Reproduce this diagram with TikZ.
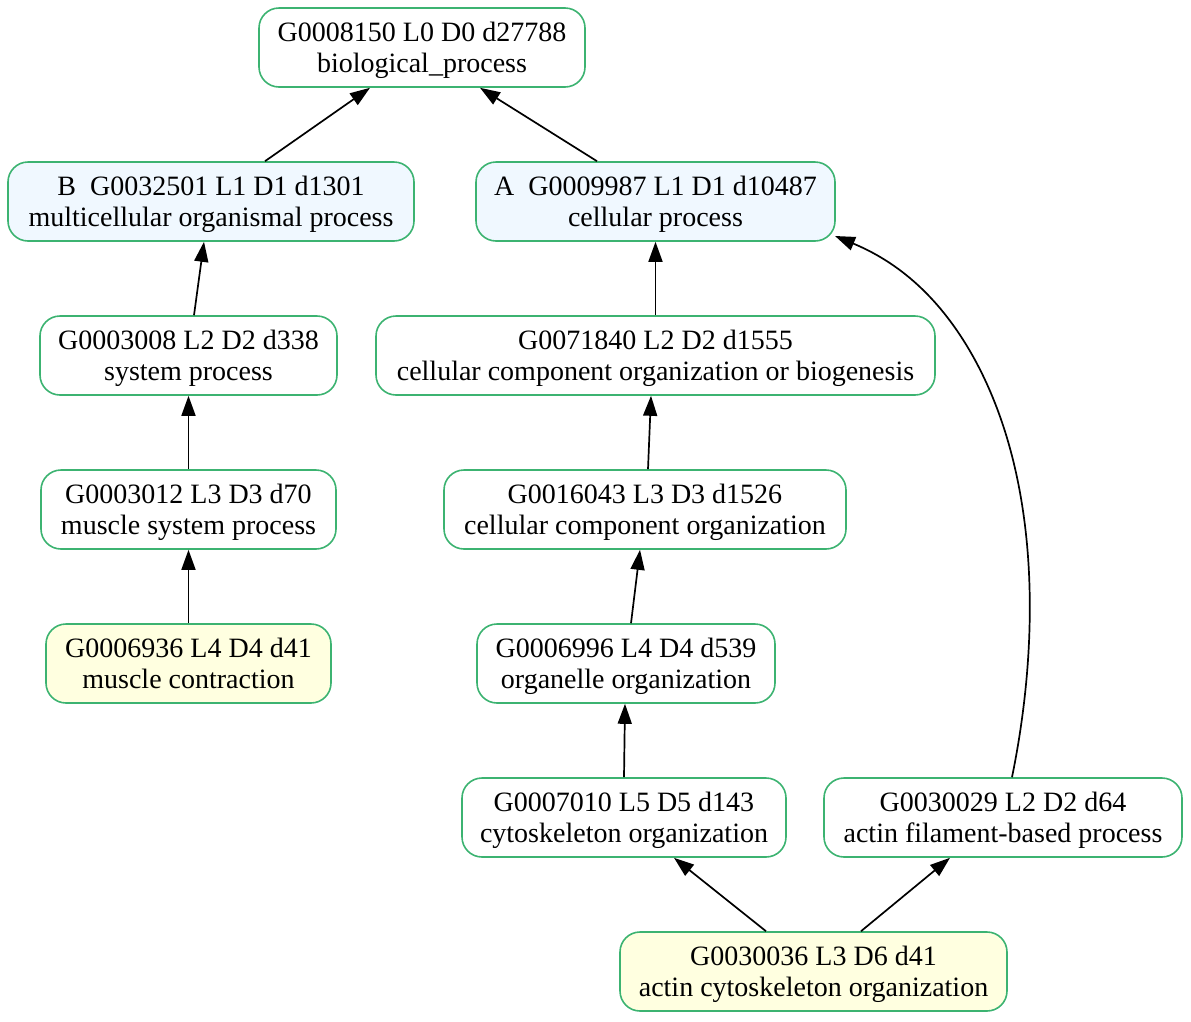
\documentclass[tikz,border=0pt]{standalone}
\usepackage{fontspec}
\setmainfont{Liberation Serif}
\usetikzlibrary{arrows.meta}
\definecolor{goedge}{RGB}{60,179,113}
\definecolor{gofillA}{RGB}{240,248,255}
\definecolor{gofillY}{RGB}{255,255,224}
% two-line term label, set slightly below the box centre
\newcommand\goterm[2]{\raisebox{-3pt}[\height][\depth]{\begin{tabular}{@{}c@{}}#1\\#2\end{tabular}}}
\tikzset{
  term/.style={draw=goedge, line width=1.6pt, rounded corners=20pt, fill=white,
    align=center, inner sep=0pt, minimum height=79pt,
    font=\fontsize{28}{31}\selectfont},
  termA/.style={term, fill=gofillA},
  termY/.style={term, fill=gofillY},
  isa/.style={line width=1.7pt, -{Triangle[length=20pt,width=14pt]}},
}
\begin{document}
\begin{tikzpicture}[x=1pt,y=-1pt]
\useasboundingbox (0,0) rectangle (1191,1021);
\node[term,  minimum width=326pt] (root) at (422,47.5)   {\goterm{G0008150 L0 D0 d27788}{biological\_process}};
\node[termA, minimum width=406pt] (B)    at (211,201.5)  {\goterm{B\ \ G0032501 L1 D1 d1301}{multicellular organismal process}};
\node[termA, minimum width=359pt] (A)    at (655.5,201.5){\goterm{A\ \ G0009987 L1 D1 d10487}{cellular process}};
\node[term,  minimum width=297pt] (n3008)  at (188.5,355.5){\goterm{G0003008 L2 D2 d338}{system process}};
\node[term,  minimum width=559pt] (n71840) at (655.5,355.5){\goterm{G0071840 L2 D2 d1555}{cellular component organization or biogenesis}};
\node[term,  minimum width=295pt] (n3012)  at (188.5,509.5){\goterm{G0003012 L3 D3 d70}{muscle system process}};
\node[term,  minimum width=402pt] (n16043) at (645,509.5)  {\goterm{G0016043 L3 D3 d1526}{cellular component organization}};
\node[termY, minimum width=285pt] (n6936)  at (188.5,663.5){\goterm{G0006936 L4 D4 d41}{muscle contraction}};
\node[term,  minimum width=298pt] (n6996)  at (626,663.5)  {\goterm{G0006996 L4 D4 d539}{organelle organization}};
\node[term,  minimum width=324pt] (n7010)  at (624,817.5)  {\goterm{G0007010 L5 D5 d143}{cytoskeleton organization}};
\node[term,  minimum width=358pt] (n30029) at (1003,817.5) {\goterm{G0030029 L2 D2 d64}{actin filament-based process}};
\node[termY, minimum width=387pt] (n30036) at (813.5,971.5){\goterm{G0030036 L3 D6 d41}{actin cytoskeleton organization}};

\coordinate (Acorner) at ([shift={(179.5,34.5)}]A.center);

\draw[isa] ([xshift=54pt]B.north) -- ([xshift=-52pt]root.south);
\draw[isa] ([xshift=-58.5pt]A.north) -- ([xshift=58pt]root.south);
\draw[isa] ([xshift=5.5pt]n3008.north) -- ([xshift=-7pt]B.south);
\draw[isa] (n3012.north) -- (n3008.south);
\draw[isa] (n6936.north) -- (n3012.south);
\draw[isa] (n71840.north) -- (A.south);
\draw[isa] ([xshift=3pt]n16043.north) -- ([xshift=-4.5pt]n71840.south);
\draw[isa] ([xshift=5pt]n6996.north) -- ([xshift=-5pt]n16043.south);
\draw[isa] (n7010.north) -- ([xshift=-1pt]n6996.south);
\draw[isa] ([xshift=-47.5pt]n30036.north) -- ([xshift=50pt]n7010.south);
\draw[isa] ([xshift=47.5pt]n30036.north) -- ([xshift=-53pt]n30029.south);
\draw[isa] ([xshift=9pt]n30029.north) .. controls (1040,640) and (1040,480) .. (975,360)
  .. controls (945,305) and (905,265) .. (Acorner);
\end{tikzpicture}
\end{document}
